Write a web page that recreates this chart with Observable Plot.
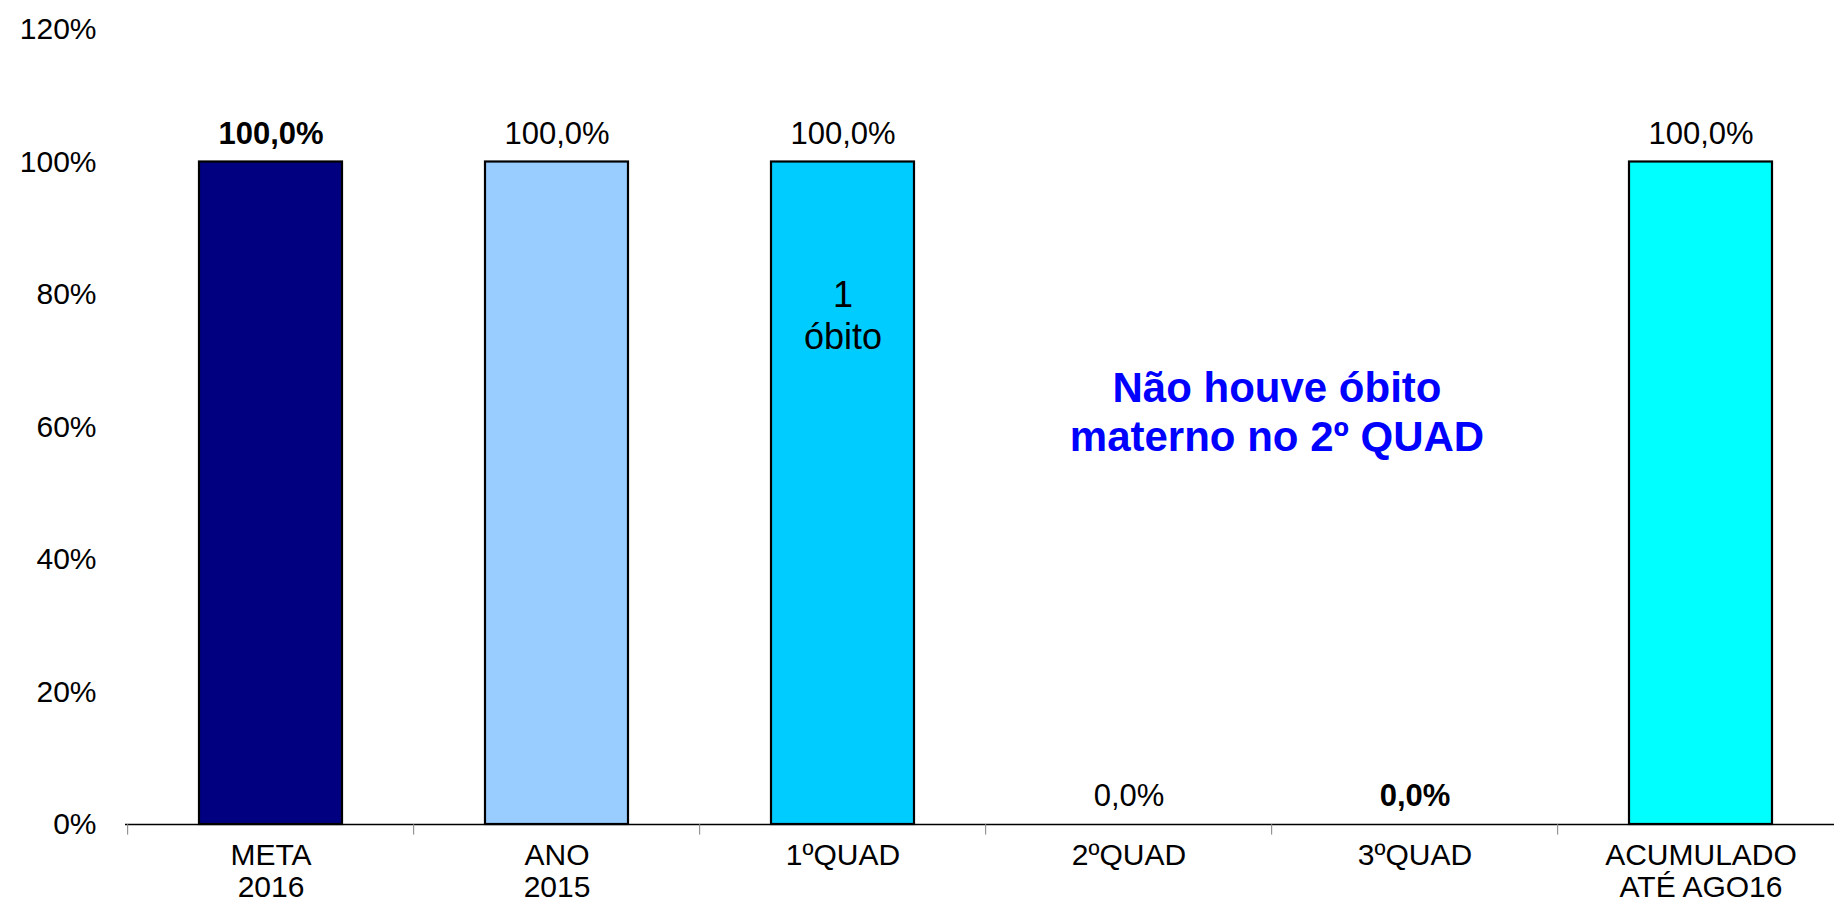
<!DOCTYPE html>
<html>
<head>
<meta charset="utf-8">
<script src="https://cdn.jsdelivr.net/npm/d3@7"></script>
<script src="https://cdn.jsdelivr.net/npm/@observablehq/plot@0.6"></script>
<style>
  html, body { margin: 0; padding: 0; background: #ffffff; }
  #chart { width: 1834px; height: 910px; overflow: hidden; }
</style>
</head>
<body>
<div id="chart"></div>
<script>
const categories = ["META\n2016", "ANO\n2015", "1ºQUAD", "2ºQUAD", "3ºQUAD", "ACUMULADO\nATÉ AGO16"];
const values = [1, 1, 1, 0, 0, 1];
const valueLabels = ["100,0%", "100,0%", "100,0%", "0,0%", "0,0%", "100,0%"];
const boldLabels = [true, false, false, false, true, false];
const barColors = ["#000080", "#99CCFF", "#00CCFF", "#FFFFFF", "#FFFFFF", "#00FFFF"];
const yTicks = [0, 0.2, 0.4, 0.6, 0.8, 1.0, 1.2];

const barNote = [{cat: "1ºQUAD", y: 0.77, text: "1\nóbito"}];
const annotation = [{cat: "3ºQUAD", y: 0.624, text: "Não houve óbito\nmaterno no 2º QUAD"}];

const data = categories.map((c, i) => ({
  cat: c, value: values[i], label: valueLabels[i], bold: boldLabels[i], color: barColors[i]
}));

const W = 1834, H = 910;
const xRange = [125, 1845];
const step = (xRange[1] - xRange[0]) / categories.length;
const font = "'Liberation Sans', Arial, Helvetica, sans-serif";

const chart = Plot.plot({
  width: W,
  height: H,
  marginLeft: 125,
  marginRight: 0,
  marginTop: 29,
  marginBottom: 86,
  style: {fontFamily: font, background: "white", color: "black", overflow: "hidden"},
  x: {domain: categories, range: xRange, paddingInner: 0.5, paddingOuter: 0.25, axis: null},
  y: {domain: [0, 1.2], range: [824, 29], axis: null},
  marks: [
    Plot.axisY({ticks: yTicks, tickFormat: d => Math.round(d * 100) + "%", tickSize: 0, tickPadding: 29, fontSize: 30, fill: "black"}),
    Plot.barY(data.filter(d => d.value > 0), {x: "cat", y: "value", fill: d => d.color, stroke: "black", strokeWidth: 2.2}),
    Plot.ruleY([0], {stroke: "black", strokeWidth: 1.5}),
    Plot.ruleX(categories, {x: d => d, dx: -step / 2, y1: 0, y2: -0.016, stroke: "#808080", strokeWidth: 1}),
    Plot.text(categories, {x: d => d, y: 0, text: d => d, lineAnchor: "top", dy: 18, fontSize: 30, lineHeight: 1.06, fill: "black"}),
    Plot.text(data.filter(d => !d.bold), {x: "cat", y: "value", text: "label", dy: -28, fontSize: 31, fill: "black"}),
    Plot.text(data.filter(d => d.bold), {x: "cat", y: "value", text: "label", dy: -28, fontSize: 31, fontWeight: "bold", fill: "black"}),
    Plot.text(barNote, {x: "cat", y: "y", text: "text", fontSize: 36, lineHeight: 1.17, fill: "black"}),
    Plot.text(annotation, {x: "cat", y: "y", text: "text", dx: -138, fontSize: 42, fontWeight: "bold", lineHeight: 1.17, fill: "#0000FF"})
  ]
});

document.getElementById("chart").appendChild(chart);
</script>
</body>
</html>
